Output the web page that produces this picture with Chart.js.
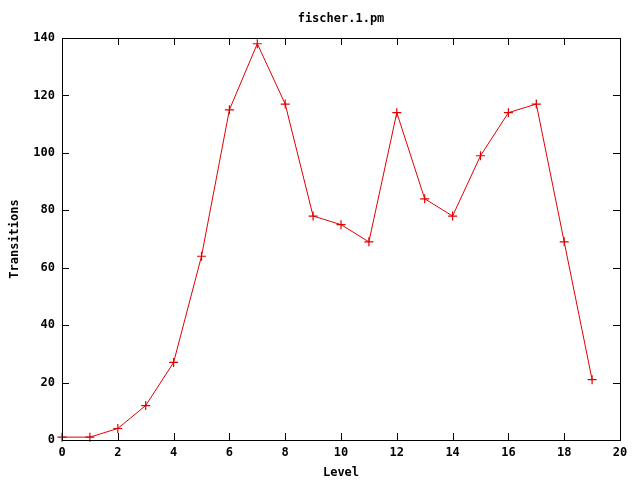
<!DOCTYPE html>
<html lang="en">
<head>
    <meta charset="UTF-8">
    <title>fischer.1.pm</title>
    <script src="https://cdn.jsdelivr.net/npm/chart.js"></script>
    <style>
        html, body { margin: 0; padding: 0; background: #fff; }
        #wrap { width: 640px; height: 480px; }
    </style>
</head>
<body>
    <div id="wrap">
        <canvas id="grafico"></canvas>
    </div>

    <script>
        // data
        const levels = [0, 1, 2, 3, 4, 5, 6, 7, 8, 9, 10, 11, 12, 13, 14, 15, 16, 17, 18, 19];
        const transitions = [1, 1, 4, 12, 27, 64, 115, 138, 117, 78, 75, 69, 114, 84, 78, 99, 114, 117, 69, 21];
        const xTicks = [0, 2, 4, 6, 8, 10, 12, 14, 16, 18, 20];
        const yTicks = [0, 20, 40, 60, 80, 100, 120, 140];
        const titulo = 'fischer.1.pm';

        const fonte = { family: '"DejaVu Sans Mono", monospace', size: 12, weight: 'bold' };

        // gnuplot style box with inward ticks on all four sides, title centred on the plot
        const moldura = {
            id: 'moldura',
            afterDatasetsDraw(chart) {
                const { ctx, chartArea: a, scales } = chart;
                ctx.save();
                ctx.strokeStyle = '#000';
                ctx.lineWidth = 1;
                ctx.beginPath();
                xTicks.forEach(v => {
                    const x = Math.round(scales.x.getPixelForValue(v)) + 0.5;
                    ctx.moveTo(x, a.bottom); ctx.lineTo(x, a.bottom - 7);
                    ctx.moveTo(x, a.top); ctx.lineTo(x, a.top + 7);
                });
                yTicks.forEach(v => {
                    const y = Math.round(scales.y.getPixelForValue(v)) + 0.5;
                    ctx.moveTo(a.left, y); ctx.lineTo(a.left + 7, y);
                    ctx.moveTo(a.right, y); ctx.lineTo(a.right - 7, y);
                });
                ctx.stroke();
                ctx.strokeRect(Math.round(a.left) + 0.5, Math.round(a.top) + 0.5,
                    Math.round(a.right - a.left), Math.round(a.bottom - a.top));

                ctx.fillStyle = '#000';
                ctx.font = 'bold 12px "DejaVu Sans Mono", monospace';
                ctx.textAlign = 'center';
                ctx.textBaseline = 'middle';
                ctx.fillText(titulo, (a.left + a.right) / 2, 19);
                ctx.restore();
            }
        };

        const ctx = document.getElementById('grafico').getContext('2d');
        new Chart(ctx, {
            type: 'line',
            data: {
                datasets: [{
                    data: levels.map((l, i) => ({ x: l, y: transitions[i] })),
                    borderColor: '#e00000',
                    borderWidth: 1,
                    pointStyle: 'cross',
                    pointRadius: 4.5,
                    pointBorderWidth: 1.2,
                    pointBorderColor: '#e00000',
                    tension: 0,
                    clip: false
                }]
            },
            options: {
                responsive: true,
                maintainAspectRatio: false,
                animation: false,
                layout: { padding: { left: 8, right: 20, top: 38, bottom: 0 } },
                plugins: {
                    legend: { display: false },
                    tooltip: { enabled: false },
                    title: { display: false }
                },
                scales: {
                    x: {
                        type: 'linear',
                        min: 0,
                        max: 20,
                        afterFit(s) { s.height = 40; },
                        afterBuildTicks(s) { s.ticks = xTicks.map(v => ({ value: v })); },
                        grid: { display: false, drawTicks: false },
                        border: { display: false },
                        ticks: { color: '#000', font: fonte, padding: 6, maxRotation: 0 },
                        title: {
                            display: true,
                            text: 'Level',
                            color: '#000',
                            font: fonte,
                            padding: { top: 2, bottom: 0 }
                        }
                    },
                    y: {
                        type: 'linear',
                        min: 0,
                        max: 140,
                        afterFit(s) { s.width = 54; },
                        afterBuildTicks(s) { s.ticks = yTicks.map(v => ({ value: v })); },
                        grid: { display: false, drawTicks: false },
                        border: { display: false },
                        ticks: { color: '#000', font: fonte, padding: 7 },
                        title: {
                            display: true,
                            text: 'Transitions',
                            color: '#000',
                            font: fonte,
                            padding: { top: 0, bottom: 0 }
                        }
                    }
                }
            },
            plugins: [moldura]
        });
    </script>
</body>
</html>
